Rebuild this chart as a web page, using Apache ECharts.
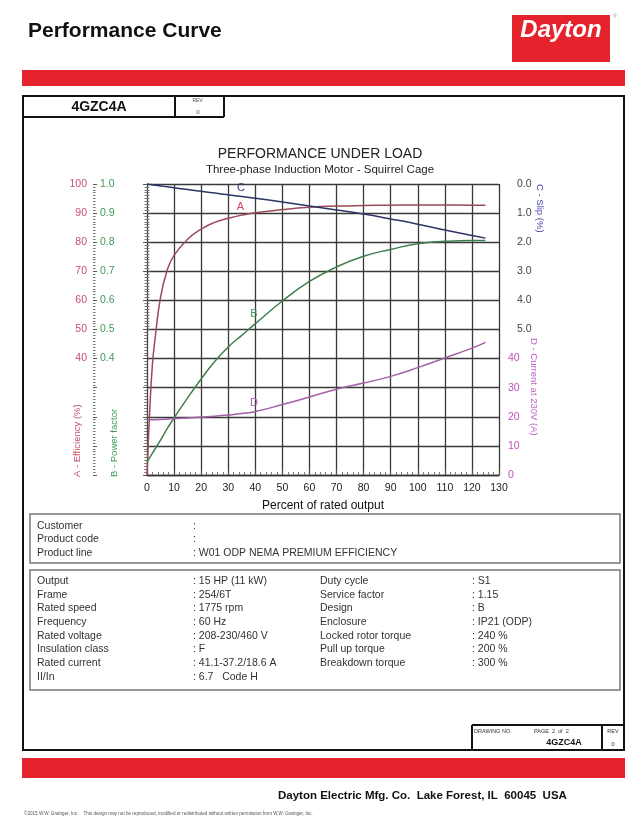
<!DOCTYPE html>
<html>
<head>
<meta charset="utf-8">
<title>Performance Curve</title>
<script src="https://cdn.jsdelivr.net/npm/echarts@6.0.0/dist/echarts.min.js"></script>
<style>
  html, body { margin: 0; padding: 0; background: #fff; }
  #main { width: 640px; height: 831px; }
</style>
</head>
<body>
<div id="main"></div>
<script>
// load points (% of rated output), shared by all four curves
var loads = [0, 1, 2, 3, 5, 7.5, 10, 15, 20, 25, 30, 35, 40, 50, 60, 70, 80, 90, 100, 110, 120, 125];
// A - efficiency (%)
var efficiency = [0, 22, 38, 47, 61, 70.5, 75.5, 81, 84.5, 86.8, 88.2, 89.3, 90.1, 91.2, 92, 92.4, 92.6, 92.7, 92.8, 92.8, 92.7, 92.7];
// B - power factor
var powerFactor = [0.045, 0.06, 0.075, 0.09, 0.12, 0.16, 0.196, 0.265, 0.33, 0.39, 0.44, 0.48, 0.52, 0.598, 0.665, 0.715, 0.752, 0.775, 0.795, 0.803, 0.806, 0.806];
// C - slip (%)
var slip = [0, 0.013, 0.026, 0.039, 0.065, 0.098, 0.13, 0.19, 0.25, 0.31, 0.37, 0.43, 0.49, 0.62, 0.76, 0.89, 1.03, 1.2, 1.38, 1.58, 1.77, 1.86];
// D - current at 230V (A)
var current = [18.9, 18.9, 19.0, 19.0, 19.1, 19.2, 19.4, 19.6, 19.9, 20.2, 20.6, 21.1, 21.8, 24.2, 26.8, 29.5, 31.6, 33.9, 36.9, 40.2, 43.6, 45.6];

// tick labels that are printed on each axis
var effLabels = [40, 50, 60, 70, 80, 90, 100];
var pfLabels = [0.4, 0.5, 0.6, 0.7, 0.8, 0.9, 1.0];
var slipLabels = [0, 1, 2, 3, 4, 5];
var currentLabels = [0, 10, 20, 30, 40];

// data sheet text
var customerRows = [
  ['Customer', ''],
  ['Product code', ''],
  ['Product line', 'W01 ODP NEMA PREMIUM EFFICIENCY']
];
var specLeft = [
  ['Output', '15 HP (11 kW)'],
  ['Frame', '254/6T'],
  ['Rated speed', '1775 rpm'],
  ['Frequency', '60 Hz'],
  ['Rated voltage', '208-230/460 V'],
  ['Insulation class', 'F'],
  ['Rated current', '41.1-37.2/18.6 A'],
  ['II/In', '6.7   Code H']
];
var specRight = [
  ['Duty cycle', 'S1'],
  ['Service factor', '1.15'],
  ['Design', 'B'],
  ['Enclosure', 'IP21 (ODP)'],
  ['Locked rotor torque', '240 %'],
  ['Pull up torque', '200 %'],
  ['Breakdown torque', '300 %']
];

var FONT = '"Liberation Sans", Arial, sans-serif';
var RED = '#e5232d';

function pairs(xs, ys) {
  return xs.map(function (x, i) { return [x, ys[i]]; });
}

function near(list, v) {
  return list.some(function (t) { return Math.abs(t - v) < 1e-6; });
}

function txt(x, y, text, opt) {
  opt = opt || {};
  return {
    type: 'text',
    x: x, y: y,
    rotation: opt.rotation || 0,
    silent: true,
    style: {
      text: text,
      fill: opt.color || '#333',
      fontSize: opt.size || 10.5,
      fontWeight: opt.weight || 'normal',
      fontStyle: opt.style || 'normal',
      fontFamily: FONT,
      align: opt.align || 'left',
      verticalAlign: 'middle'
    }
  };
}

function box(x, y, w, h, opt) {
  opt = opt || {};
  return {
    type: 'rect',
    silent: true,
    shape: { x: x, y: y, width: w, height: h },
    style: { fill: opt.fill || 'none', stroke: opt.stroke || null, lineWidth: opt.lw || 1 }
  };
}

function line(x1, y1, x2, y2, opt) {
  opt = opt || {};
  return {
    type: 'line',
    silent: true,
    shape: { x1: x1, y1: y1, x2: x2, y2: y2 },
    style: { stroke: opt.stroke || '#111', lineWidth: opt.lw || 2 }
  };
}

// page furniture
var graphics = [];
graphics.push(txt(28, 31, 'Performance Curve', { size: 21, weight: 'bold', color: '#111' }));
graphics.push(box(512, 15, 98, 47, { fill: RED }));
graphics.push(txt(561, 30, 'Dayton', { size: 24, weight: 'bold', style: 'italic', color: '#fff', align: 'center' }));
graphics.push(txt(613, 17, '®', { size: 5, color: '#999' }));
graphics.push(box(22, 70, 603, 16, { fill: RED }));

graphics.push(box(23, 96, 601, 654, { stroke: '#111', lw: 2 }));
graphics.push(line(23, 117, 224, 117));
graphics.push(line(175, 96, 175, 117));
graphics.push(line(224, 96, 224, 117));
graphics.push(txt(99, 107, '4GZC4A', { size: 14, weight: 'bold', color: '#111', align: 'center' }));
graphics.push(txt(198, 101, 'REV.', { size: 5, color: '#555', align: 'center' }));
graphics.push(txt(198, 112, '0', { size: 6, color: '#555', align: 'center' }));

// axis names
graphics.push(txt(77, 477, 'A - Efficiency (%)', { size: 9.5, color: '#c8506a', rotation: Math.PI / 2 }));
graphics.push(txt(114, 477, 'B - Power factor', { size: 9.5, color: '#3f9a58', rotation: Math.PI / 2 }));
graphics.push(txt(540, 184, 'C - Slip (%)', { size: 9.5, color: '#4a4aa8', rotation: -Math.PI / 2 }));
graphics.push(txt(534, 338, 'D - Current at 230V (A)', { size: 9.5, color: '#c060c8', rotation: -Math.PI / 2 }));

// customer block
graphics.push(box(30, 514, 590, 49, { stroke: '#777', lw: 1.5 }));
customerRows.forEach(function (r, i) {
  var y = 526 + i * 13.5;
  graphics.push(txt(37, y, r[0]));
  graphics.push(txt(193, y, ':' + (r[1] ? ' ' + r[1] : '')));
});

// specification block
graphics.push(box(30, 570, 590, 120, { stroke: '#777', lw: 1.5 }));
specLeft.forEach(function (r, i) {
  var y = 581 + i * 13.7;
  graphics.push(txt(37, y, r[0]));
  graphics.push(txt(193, y, ': ' + r[1]));
});
specRight.forEach(function (r, i) {
  var y = 581 + i * 13.7;
  graphics.push(txt(320, y, r[0]));
  graphics.push(txt(472, y, ': ' + r[1]));
});

// drawing number block
graphics.push(line(472, 725, 624, 725));
graphics.push(line(472, 725, 472, 750));
graphics.push(line(602, 725, 602, 750));
graphics.push(txt(474, 731, 'DRAWING NO.', { size: 5.5, color: '#333' }));
graphics.push(txt(534, 731, 'PAGE  2  of  2', { size: 5.5, color: '#333' }));
graphics.push(txt(564, 743, '4GZC4A', { size: 9, weight: 'bold', color: '#111', align: 'center' }));
graphics.push(txt(613, 731, 'REV', { size: 5.5, color: '#333', align: 'center' }));
graphics.push(txt(613, 744, '0', { size: 6, color: '#333', align: 'center' }));

graphics.push(box(22, 758, 603, 20, { fill: RED }));
graphics.push(txt(278, 796, 'Dayton Electric Mfg. Co.  Lake Forest, IL  60045  USA', { size: 11.5, weight: 'bold', color: '#111' }));
graphics.push(txt(24, 814, '©2015 W.W. Grainger, Inc.    This design may not be reproduced, modified or redistributed without written permission from W.W. Grainger, Inc.', { size: 4.6, color: '#555' }));

var gridLine = { show: true, lineStyle: { color: '#3a3a3a', width: 1.3 } };
var plotLeft = 147, plotWidth = 352;

var chart = echarts.init(document.getElementById('main'), null, { renderer: 'canvas' });

var option = {
  animation: false,
  backgroundColor: '#fff',
  textStyle: { fontFamily: FONT },
  title: {
    left: 'center',
    top: 142,
    text: 'PERFORMANCE UNDER LOAD',
    subtext: 'Three-phase Induction Motor - Squirrel Cage',
    itemGap: 3,
    textStyle: { fontSize: 14, fontWeight: 'normal', color: '#222', fontFamily: FONT },
    subtextStyle: { fontSize: 11.5, color: '#222', fontFamily: FONT }
  },
  grid: [
    { left: plotLeft, top: 184, width: plotWidth, height: 291 },
    { left: plotLeft, top: 184, width: plotWidth, height: 145.5 },
    { left: plotLeft, top: 329.5, width: plotWidth, height: 145.5 }
  ],
  xAxis: [
    {
      gridIndex: 0, type: 'value', min: 0, max: 130, interval: 10,
      name: 'Percent of rated output', nameLocation: 'middle', nameGap: 25,
      nameTextStyle: { fontSize: 12, color: '#111' },
      axisLine: { show: true, lineStyle: { color: '#333', width: 1.3 } },
      axisTick: { show: true, inside: true, length: 5, lineStyle: { color: '#555' } },
      minorTick: { show: true, splitNumber: 5, length: 3, lineStyle: { color: '#777' } },
      axisLabel: { fontSize: 10.5, color: '#222', margin: 8 },
      splitLine: gridLine
    },
    { gridIndex: 1, type: 'value', min: 0, max: 130, show: false },
    { gridIndex: 2, type: 'value', min: 0, max: 130, show: false }
  ],
  yAxis: [
    {
      // A - efficiency
      gridIndex: 0, type: 'value', position: 'left', offset: 54,
      min: 0, max: 100, interval: 10,
      axisLine: { show: true, lineStyle: { color: '#444', width: 1 } },
      axisTick: { show: true, length: 4, lineStyle: { color: '#555' } },
      minorTick: { show: true, splitNumber: 10, length: 2.5, lineStyle: { color: '#777' } },
      axisLabel: {
        fontSize: 10.5, color: '#c8506a', margin: 6,
        formatter: function (v) { return near(effLabels, v) ? String(v) : ''; }
      },
      splitLine: gridLine
    },
    {
      // B - power factor
      gridIndex: 0, type: 'value', position: 'left', offset: 54,
      min: 0, max: 1, interval: 0.1,
      axisLine: { show: false },
      axisTick: { show: true, inside: true, length: 4, lineStyle: { color: '#555' } },
      minorTick: { show: true, splitNumber: 10, length: 2.5, lineStyle: { color: '#777' } },
      axisLabel: {
        inside: true, fontSize: 10.5, color: '#3f9a58', margin: 7,
        formatter: function (v) { return near(pfLabels, v) ? v.toFixed(1) : ''; }
      },
      splitLine: { show: false }
    },
    {
      // C - slip, upper half of the right side
      gridIndex: 1, type: 'value', position: 'right', offset: 11,
      min: 0, max: 5, interval: 1, inverse: true,
      axisLine: { show: true, lineStyle: { color: '#444', width: 1 } },
      axisTick: { show: true, length: 4, lineStyle: { color: '#555' } },
      minorTick: { show: true, splitNumber: 10, length: 2.5, lineStyle: { color: '#777' } },
      axisLabel: {
        fontSize: 10.5, color: '#444', margin: 7,
        formatter: function (v) { return near(slipLabels, v) ? v.toFixed(1) : ''; }
      },
      splitLine: { show: false }
    },
    {
      // D - current, lower half of the right side
      gridIndex: 2, type: 'value', position: 'right', offset: 0,
      min: 0, max: 50, interval: 10,
      axisLine: { show: true, lineStyle: { color: '#444', width: 1 } },
      axisTick: { show: true, inside: true, length: 4, lineStyle: { color: '#555' } },
      minorTick: { show: true, splitNumber: 10, length: 2.5, lineStyle: { color: '#777' } },
      axisLabel: {
        fontSize: 10.5, color: '#c050c0', margin: 9,
        formatter: function (v) { return near(currentLabels, v) ? String(v) : ''; }
      },
      splitLine: { show: false }
    }
  ],
  series: [
    curve('A', 0, 0, pairs(loads, efficiency), '#9a4a58', '#d0485a', [34.5, 92.2]),
    curve('B', 0, 1, pairs(loads, powerFactor), '#3f7f4f', '#3f9a58', [39.5, 0.553]),
    curve('C', 1, 2, pairs(loads, slip), '#2c3566', '#333a70', [34.7, 0.14]),
    curve('D', 2, 3, pairs(loads, current), '#a460a8', '#b050b0', [39.5, 24.7])
  ],
  graphic: graphics
};

function curve(name, xi, yi, data, color, labelColor, labelAt) {
  return {
    name: name, type: 'line',
    xAxisIndex: xi, yAxisIndex: yi,
    data: data,
    showSymbol: false,
    smooth: 0.5,
    silent: true,
    lineStyle: { color: color, width: 1.5 },
    markPoint: {
      symbol: 'circle', symbolSize: 1,
      itemStyle: { color: 'rgba(0,0,0,0)' },
      label: { show: true, formatter: name, color: labelColor, fontSize: 11 },
      data: [{ coord: labelAt }]
    }
  };
}

chart.setOption(option);
</script>
</body>
</html>
